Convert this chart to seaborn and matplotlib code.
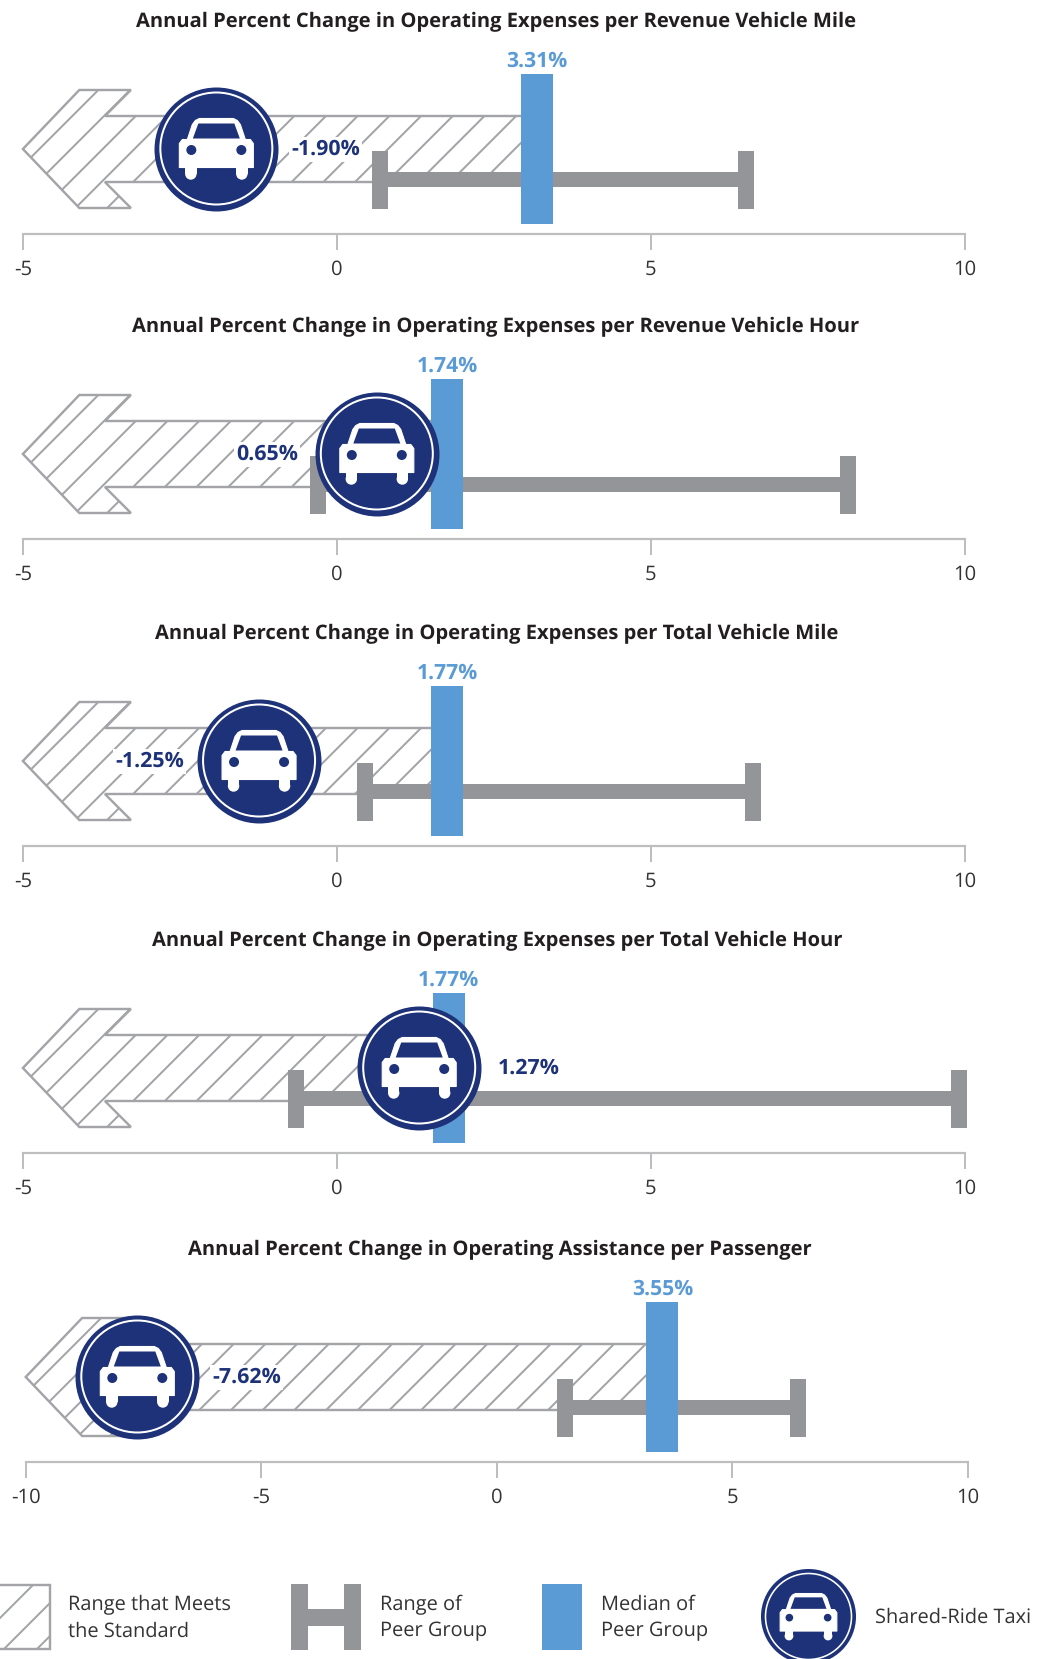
import matplotlib
matplotlib.use("Agg")
import matplotlib.pyplot as plt
import seaborn as sns
import pandas as pd
from matplotlib.patches import Polygon, Rectangle, Circle
from matplotlib.transforms import Affine2D

titles = ["Annual Percent Change in Operating Expenses per Revenue Vehicle Mile",
          "Annual Percent Change in Operating Expenses per Revenue Vehicle Hour",
          "Annual Percent Change in Operating Expenses per Total Vehicle Mile",
          "Annual Percent Change in Operating Expenses per Total Vehicle Hour",
          "Annual Percent Change in Operating Assistance per Passenger"]
taxi_values = [-1.92, 0.635, -1.24, 1.31, -7.63]
taxi_labels = ["-1.90%", "0.65%", "-1.25%", "1.27%", "-7.62%"]
median_values = [3.19, 1.76, 1.76, 1.78, 3.52]
median_labels = ["3.31%", "1.74%", "1.77%", "1.77%", "3.55%"]
peer_low = [0.68, -0.30, 0.44, -0.65, 1.46]
peer_high = [6.52, 8.14, 6.62, 9.91, 6.40]
ticks = [[-5, 0, 5, 10]] * 4 + [[-10, -5, 0, 5, 10]]
legend_labels = ["Range that Meets\nthe Standard", "Range of\nPeer Group", "Median of\nPeer Group", "Shared-Ride Taxi"]

W, H = 1038, 1659
AXIS_Y = [233.5, 538.5, 845.5, 1152.5, 1461.5]
TITLE_CX = [496, 496, 497, 497, 500]
AX_LEFT = [22.9, 22.9, 22.9, 22.9, 25.7]
AX_RIGHT = [965, 965, 965, 965, 967.5]
LABEL_SIDE = [1, -1, -1, 1, 1]
NAVY, BLUE, GREY, HATCH, AXC, TXT = "#1D3278", "#5B9BD5", "#939598", "#A2A4A7", "#BCBEC0", "#333333"
PT = 0.72

sns.set_theme(style="white")
plt.rcParams["font.family"] = ["Open Sans", "DejaVu Sans"]
plt.rcParams["text.hinting"] = "no_hinting"
fig = plt.figure(figsize=(W / 100, H / 100), dpi=100, facecolor="white")
px = Affine2D().scale(1, -1).translate(0, H)


def hatch_lines(ax, clip, x0, y0, x1, y1, phase):
    step = 31.7
    c = phase
    while c - step > x0 + y0:
        c -= step
    while c < x1 + y1:
        ln, = ax.plot([c - y0 + 5, c - y1 - 5], [y0 - 5, y1 + 5], color=HATCH, lw=2.0 * PT,
                      transform=px, zorder=2)
        ln.set_clip_path(clip)
        c += step


def car(ax, base, cx, cy, k=1.0, zorder=6):
    tr = Affine2D().scale(k).translate(cx, cy) + base
    V = [(-37, 19), (-37, -5), (-34, -9), (-29, -9), (-24, -24), (-21, -28), (-17, -30), (17, -30), (21, -28),
         (24, -24), (29, -9), (34, -9), (37, -5), (37, 19)]
    ax.add_patch(Polygon(V, closed=True, fc="white", ec="white", lw=0.8, transform=tr, zorder=zorder, clip_on=False,
                         joinstyle="round"))
    for s in (-1, 1):
        ax.add_patch(Rectangle((s * 25.5 - 5.7, 15), 11.4, 10.5, fc="white", ec="none", transform=tr, zorder=zorder,
                               clip_on=False))
        ax.add_patch(Circle((s * 25.5, 25.5), 5.7, fc="white", ec="none", transform=tr, zorder=zorder, clip_on=False))
        ax.add_patch(Circle((s * 25, 1.5), 5, fc=NAVY, ec="none", transform=tr, zorder=zorder + 0.1, clip_on=False))
    ax.add_patch(Polygon([(-23.5, -10), (-18, -25), (18, -25), (23.5, -10)], closed=True, fc=NAVY, ec="none",
                         transform=tr, zorder=zorder + 0.1, clip_on=False))


for i in range(5):
    y_ax = AXIS_Y[i]
    ax = fig.add_axes([AX_LEFT[i] / W, (H - y_ax) / H, (AX_RIGHT[i] - AX_LEFT[i]) / W, 230 / H])
    ax.set_xlim(ticks[i][0], ticks[i][-1])
    ax.set_ylim(0, 230)
    ax.patch.set_alpha(0)
    for s in ("top", "left", "right"):
        ax.spines[s].set_visible(False)
    ax.spines["bottom"].set_color(AXC)
    ax.spines["bottom"].set_linewidth(2.2 * PT)
    ax.set_xticks(ticks[i])
    ax.set_xticklabels([str(t) for t in ticks[i]], fontsize=14.6, color=TXT)
    ax.set_yticks([])
    ax.tick_params(axis="x", bottom=True, length=16 * PT, width=2 * PT, color=AXC, pad=7.5)
    unit = (AX_RIGHT[i] - AX_LEFT[i]) / (ticks[i][-1] - ticks[i][0])

    # standard range arrow (pixel shape, right end at the median)
    xr = AX_LEFT[i] + (median_values[i] - ticks[i][0]) * unit
    tx = AX_LEFT[i]
    c = y_ax - 84.5
    pts = [(tx, c), (tx + 56.4, c - 59), (tx + 108, c - 59), (tx + 82, c - 33), (xr, c - 33), (xr, c + 33),
           (tx + 82, c + 33), (tx + 108, c + 59), (tx + 56.4, c + 59)]
    ax.add_patch(Polygon(pts, closed=True, fc="white", ec="none", transform=px, zorder=1, clip_on=False))
    clip = Polygon(pts, closed=True, transform=px)
    hatch_lines(ax, clip, tx, c - 59, xr, c + 59, tx + c - 59 + 0.38 * 31.7)
    ax.add_patch(Polygon(pts, closed=True, fc="none", ec=HATCH, lw=2.4 * PT, transform=px, zorder=2.5, clip_on=False))

    # peer range
    sns.lineplot(data=pd.DataFrame({"x": [peer_low[i], peer_high[i]], "y": [54.5, 54.5]}), x="x", y="y", ax=ax,
                 color=GREY, lw=15 * PT, zorder=3, solid_capstyle="butt", clip_on=False)
    ax.vlines([peer_low[i], peer_high[i]], 25, 83, color=GREY, lw=16 * PT, zorder=3, capstyle="butt", clip_on=False)
    # peer median
    ax.bar([median_values[i]], [150], bottom=9.5, width=32 / unit, color=BLUE, edgecolor="none", linewidth=0, zorder=4,
           clip_on=False)
    ax.text(median_values[i], 172.5, median_labels[i], color=BLUE, fontsize=15.2, fontweight="bold", ha="center",
            va="center", zorder=5)
    # taxi
    frame = pd.DataFrame({"x": [taxi_values[i]], "y": [85.0]})
    sns.scatterplot(data=frame, x="x", y="y", ax=ax, s=(124 * PT) ** 2,
                    color=NAVY, linewidth=0, zorder=6, clip_on=False, legend=False)
    sns.scatterplot(data=frame, x="x", y="y", ax=ax, s=(112 * PT) ** 2,
                    facecolor="none", edgecolor="white", linewidth=2 * PT, zorder=6.05, clip_on=False, legend=False)
    ax.set_xlim(ticks[i][0], ticks[i][-1])
    ax.set_ylim(0, 230)
    ax.set_xlabel("")
    ax.set_ylabel("")
    cx = AX_LEFT[i] + (taxi_values[i] - ticks[i][0]) * unit
    car(ax, px, cx, y_ax - 85.0, zorder=6.1)
    ax.text(taxi_values[i] + LABEL_SIDE[i] * 109.5 / unit, 84.0, taxi_labels[i], color=NAVY, fontsize=15.4,
            fontweight="bold", ha="center", va="center", zorder=5,
            bbox=dict(fc="white", ec="none", pad=1.5))
    fig.text(TITLE_CX[i] / W, 1 - (y_ax - 212) / H, titles[i], fontsize=14.5, fontweight="bold", color="#231F20",
             ha="center", va="center")

# legend
lg = fig.add_axes([0, 0, 1, 1], zorder=10)
lg.set_xlim(0, W)
lg.set_ylim(H, 0)
lg.axis("off")
lg.patch.set_alpha(0)
box = [(-3, 1585), (49.5, 1585), (49.5, 1649), (-3, 1649)]
lg.add_patch(Polygon(box, closed=True, fc="white", ec=HATCH, lw=2.4 * PT))
clipb = Polygon(box, closed=True, transform=lg.transData)
for cc in (1618, 1653, 1686):
    ln, = lg.plot([cc - 1580, cc - 1655], [1580, 1655], color=HATCH, lw=2.0 * PT)
    ln.set_clip_path(clipb)
lg.add_patch(Rectangle((291, 1584), 17, 66, fc=GREY, ec="none"))
lg.add_patch(Rectangle((344, 1584), 17, 66, fc=GREY, ec="none"))
lg.add_patch(Rectangle((308, 1609), 36, 17, fc=GREY, ec="none"))
lg.add_patch(Rectangle((542, 1584), 40, 66, fc=BLUE, ec="none"))
lg.add_patch(Circle((808.5, 1616.5), 47.5, fc=NAVY, ec="none"))
lg.add_patch(Circle((808.5, 1616.5), 43, fc="none", ec="white", lw=1.6 * PT))
car(lg, lg.transData, 808.5, 1616.5, k=47.5 / 62, zorder=3)
for x0, txt, yy in zip((68, 380, 601, 875), legend_labels, (1618, 1618, 1618, 1618)):
    lg.text(x0, yy, txt, fontsize=14.4, color=TXT, ha="left", va="center", linespacing=1.45)

fig.savefig("out.png", dpi=100, facecolor="white")
